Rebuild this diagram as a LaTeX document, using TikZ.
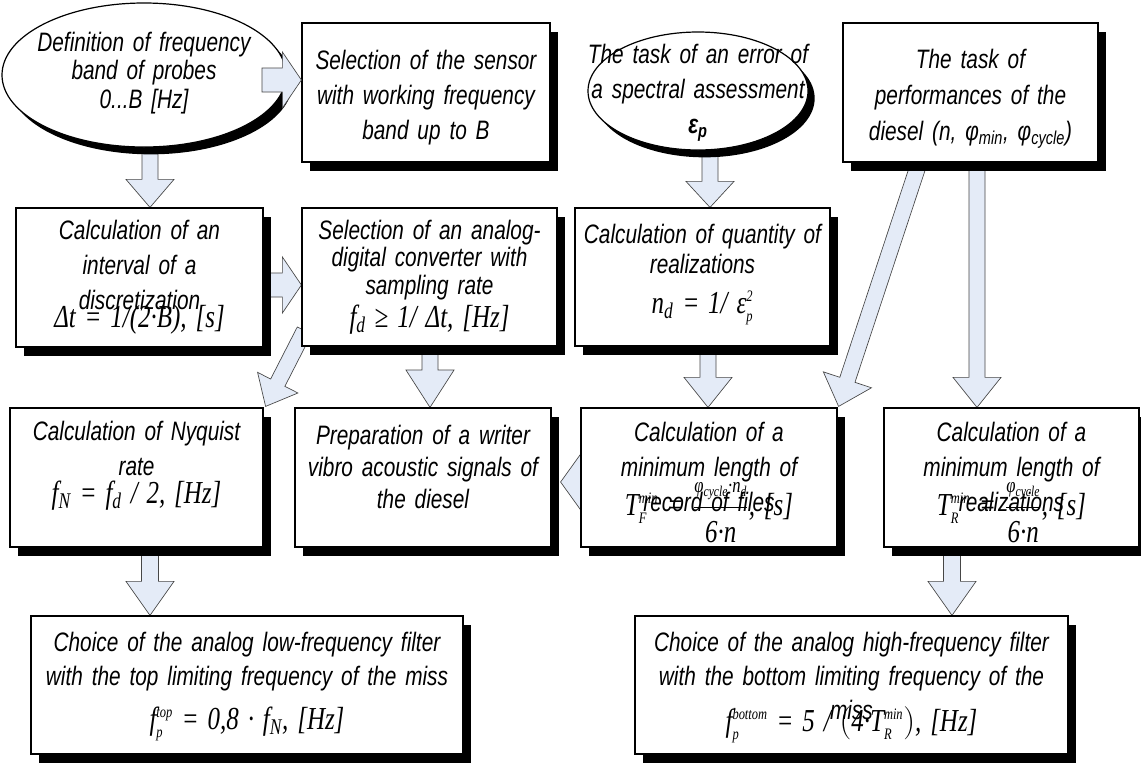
\documentclass[tikz,border=0pt]{standalone}
\usepackage{fontspec}
\setmainfont{Liberation Sans}[FakeStretch=0.78]
\newfontfamily\mfont{Liberation Serif}[FakeStretch=0.78]
\usetikzlibrary{calc,shadows,shapes.geometric}
\pgfdeclarelayer{back}
\pgfdeclarelayer{bg}
\pgfsetlayers{back,bg,main}
\definecolor{arrfill}{RGB}{228,235,247}
\definecolor{arrline}{RGB}{70,70,70}
\newcommand\mth[1]{{\mfont\itshape\fontsize{24}{26}\selectfont #1}}
\newcommand\supsub[2]{$^{\mbox{\fontsize{12}{12}\selectfont #1}}_{\mbox{\fontsize{12}{12}\selectfont #2}}$}
\newcommand\blockarr[5]{%
  \coordinate (hb) at ($(#2)!#5!(#1)$);
  \draw[barrow] ($(#1)!#3!90:(#2)$) -- ($(hb)!#3!90:(#2)$) -- ($(hb)!#4!90:(#2)$) -- (#2)
    -- ($(hb)!#4!-90:(#2)$) -- ($(hb)!#3!-90:(#2)$) -- ($(#1)!#3!-90:(#2)$) -- cycle;
}
\tikzset{
  box/.style={draw=black, line width=0.9pt, fill=white, inner sep=0pt,
    drop shadow={shadow xshift=6pt, shadow yshift=-7pt, opacity=1, fill=black}},
  oval/.style={draw=black, line width=0.9pt, fill=white, inner sep=0pt, ellipse,
    drop shadow={shadow xshift=5pt, shadow yshift=-5.5pt, opacity=1, fill=black}},
  txt/.style={anchor=north, inner sep=0pt, align=center,
    font=\fontsize{20}{#1}\selectfont\itshape},
  barrow/.style={draw=arrline, line width=0.5pt, fill=arrfill, line join=miter}
}
\begin{document}
\begin{tikzpicture}[x=0.75pt,y=-0.75pt]
\useasboundingbox (0,0) rectangle (1141,765);
\begin{pgfonlayer}{back}
\fill[white] (0,0) rectangle (1141,765);
\end{pgfonlayer}

% boxes
\node[oval, minimum width=213pt, minimum height=108pt] (e1) at (144,75) {};
\node[box, minimum width=186pt, minimum height=104.25pt] (b2) at (426,92.5) {};
\node[oval, minimum width=165pt, minimum height=88.5pt] (e3) at (698,91) {};
\node[box, minimum width=191.25pt, minimum height=104.25pt] (b4) at (970.5,92.5) {};
\node[box, minimum width=185.25pt, minimum height=104.25pt] (b5) at (139.5,277.5) {};
\node[box, minimum width=191.25pt, minimum height=103.5pt] (b6) at (429.5,277) {};
\node[box, minimum width=191.25pt, minimum height=103.5pt] (b7) at (702.5,277) {};
\node[box, minimum width=189.75pt, minimum height=104.25pt] (b8) at (136.5,477.5) {};
\node[box, minimum width=192pt, minimum height=104.25pt] (b9) at (423,477.5) {};
\node[box, minimum width=192pt, minimum height=104.25pt] (b10) at (709,477.5) {};
\node[box, minimum width=191.25pt, minimum height=104.25pt] (b11) at (1011.5,477.5) {};
\node[box, minimum width=324pt, minimum height=103.5pt] (b12) at (247,685) {};
\node[box, minimum width=324.75pt, minimum height=103.5pt] (b13) at (851.5,685) {};

% texts
\node[txt=21.4, text width=210pt] (e1t) at (144,31.5) {Definition of frequency\\band of probes\\0...B [Hz]};
\node[txt=26.25, text width=180pt] (e3t) at (698,43.5) {The task of an error of\\a spectral assessment\\\textbf{ε\textsubscript{p}}};
\node[txt=26.25, text width=185pt] (b2t) at (426,49.5) {Selection of the sensor\\with working frequency\\band up to B};
\node[txt=27, text width=190pt] (b4t) at (970.5,48.5) {The task of\\performances of the\\diesel (n, φ\textsubscript{min}, φ\textsubscript{cycle})};
\node[txt=26.25, text width=185pt] (b5t) at (139.5,219.5) {Calculation of an\\interval of a\\discretization\\[-12.75pt]\mth{Δt = 1/(2·B), [s]}};
\node[txt=20.6, text width=190pt] (b6t) at (429.5,219.5) {Selection of an analog-\\digital converter with\\sampling rate\\[3pt]\mth{f\textsubscript{d} ≥ 1/ Δt, [Hz]}};
\node[txt=22.5, text width=190pt] (b7t) at (702.5,223.5) {Calculation of quantity of\\realizations\\[8pt]\mth{n\textsubscript{d} = 1/ ε\supsub{2}{p}}};
\node[txt=26.25, text width=190pt] (b8t) at (136.5,420.5) {Calculation of Nyquist\\rate\\[-5pt]\mth{f\textsubscript{N} = f\textsubscript{d} / 2, [Hz]}};
\node[txt=24, text width=190pt] (b9t) at (423,424.5) {Preparation of a writer\\vibro acoustic signals of\\the diesel};
\node[txt=26.25, text width=190pt] (b10t) at (709,421.5) {Calculation of a\\minimum length of\\record of files\\[-23pt]\mth{T\supsub{min}{F} = $\displaystyle\frac{\mbox{\fontsize{16}{16}\selectfont φ\textsubscript{cycle}·n\textsubscript{d}}}{\mbox{\rule{0pt}{25pt}6·n}}$, [s]}};
\node[txt=26.25, text width=190pt] (b11t) at (1011.5,421.5) {Calculation of a\\minimum length of\\realizations\\[-23pt]\mth{T\supsub{min}{R} = $\displaystyle\frac{\mbox{\fontsize{16}{16}\selectfont φ\textsubscript{cycle}}}{\mbox{\rule{0pt}{25pt}6·n}}$, [s]}};
\node[txt=25.5, text width=322pt] (b12t) at (247,631.5) {Choice of the analog low-frequency filter\\with the top limiting frequency of the miss\\[8pt]\mth{f\supsub{top}{p} = 0,8 · f\textsubscript{N}, [Hz]}};
\node[txt=25.5, text width=322pt] (b13t) at (851.5,631.5) {Choice of the analog high-frequency filter\\with the bottom limiting frequency of the\\miss\\[-16pt]\mth{f\supsub{bottom}{p} = 5 / $\left(\mbox{4·T\supsub{min}{R}}\right)$, [Hz]}};

% block arrows
\begin{pgfonlayer}{bg}
\coordinate (a2s) at ($(e1.south)+(6,-7)$);
\coordinate (a2t) at ($(b5.north)+(10.5,0)$);
\blockarr{a2s}{a2t}{6pt}{18pt}{21pt}
\coordinate (a3s) at ($(b5.east)+(-8,7.5)$);
\coordinate (a3t) at ($(b6.west)+(0,8)$);
\blockarr{a3s}{a3t}{9pt}{21pt}{14.25pt}
\coordinate (a4s) at ($(b6.south west)+(3,-16)$);
\coordinate (a4t) at ($(b8.north east)+(2,-1)$);
\blockarr{a4s}{a4t}{6pt}{17pt}{20pt}
\coordinate (a5s) at ($(b6.south)+(0.5,-6)$);
\coordinate (a5t) at ($(b9.north)+(7,0)$);
\blockarr{a5s}{a5t}{6pt}{18pt}{28pt}
\coordinate (a6s) at ($(e3.south)+(12,-10)$);
\coordinate (a6t) at ($(b7.north)+(7.5,0)$);
\blockarr{a6s}{a6t}{6pt}{18pt}{19.5pt}
\coordinate (a7s) at ($(b7.south)+(5.5,-6)$);
\coordinate (a7t) at ($(b10.north)+(-1,0)$);
\blockarr{a7s}{a7t}{6pt}{18pt}{22.5pt}
\coordinate (a8s) at ($(b4.south)+(-50,-4)$);
\coordinate (a8t) at ($(b10.north east)+(1,-1)$);
\blockarr{a8s}{a8t}{6pt}{19pt}{21pt}
\coordinate (a9s) at ($(b4.south)+(6.5,-4)$);
\coordinate (a9t) at ($(b11.north)+(-34.5,0)$);
\blockarr{a9s}{a9t}{6pt}{18pt}{22.5pt}
\coordinate (a10s) at ($(b10.west)+(4,4.5)$);
\coordinate (a10t) at ($(b9.east)+(9,4.5)$);
\blockarr{a10s}{a10t}{9pt}{23pt}{16.5pt}
\coordinate (a11s) at ($(b8.south)+(13.5,-7)$);
\coordinate (a11t) at ($(b12.north)+(-97,0)$);
\blockarr{a11s}{a11t}{6.4pt}{18pt}{25.5pt}
\coordinate (a12s) at ($(b11.south)+(-59.5,-7)$);
\coordinate (a12t) at ($(b13.north)+(100.5,0)$);
\blockarr{a12s}{a12t}{6.4pt}{18pt}{25.5pt}
\end{pgfonlayer}
% arrow drawn over the oval's edge
\coordinate (a1s) at ($(e1.center)+(118,5)$);
\coordinate (a1t) at ($(b2.west)+(0,-12.5)$);
\blockarr{a1s}{a1t}{9pt}{21pt}{14.25pt}
\end{tikzpicture}
\end{document}
